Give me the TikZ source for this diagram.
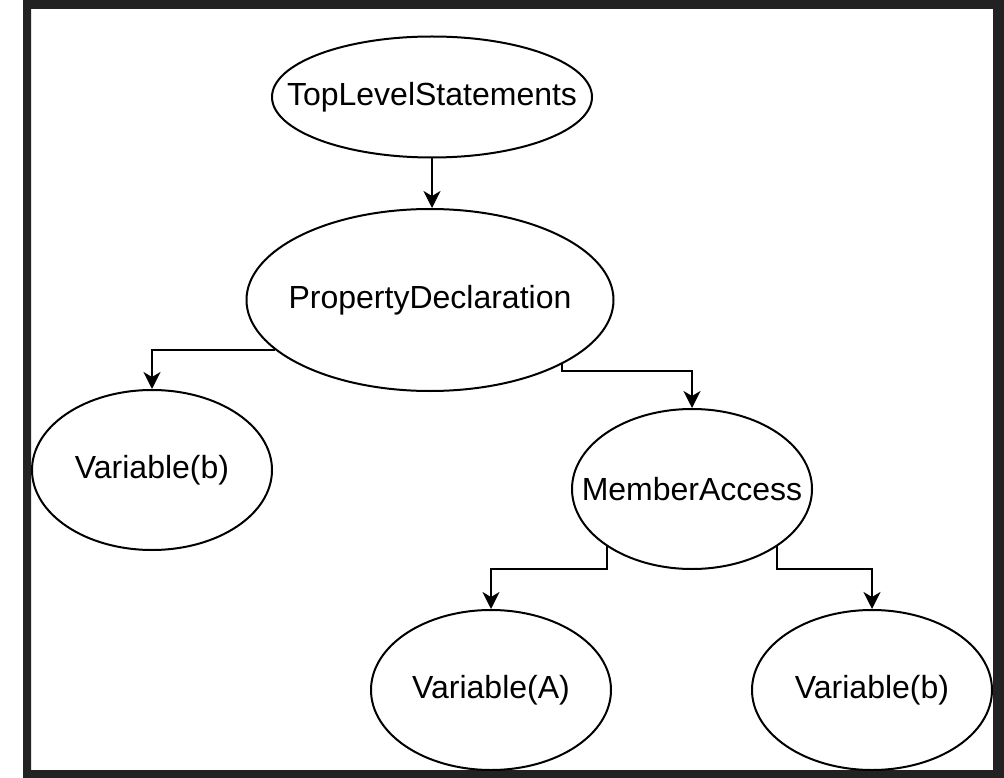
\documentclass[tikz,border=0pt]{standalone}
\usepackage{fontspec}
\setmainfont{Liberation Sans}
\usetikzlibrary{shapes.geometric,arrows.meta}
\definecolor{framegray}{HTML}{222222}
% a label whose width does not enlarge its ellipse
\newcommand{\lbl}[1]{\makebox[0pt]{#1}}
\tikzset{
  treenode/.style={ellipse, draw=black, line width=2pt, inner sep=0pt,
    font=\fontsize{32}{38}\selectfont, text=black},
  leaf/.style={treenode, minimum width=240pt, minimum height=160pt},
  arr/.style={draw=black, line width=2pt,
    -{Stealth[length=17pt,width=17pt,inset=5pt]}}
}
\begin{document}
\begin{tikzpicture}[x=1pt,y=-1pt]
  \useasboundingbox (0,0) rectangle (1004,778);
  % dark frame around the drawing area
  \fill[framegray, even odd rule] (23,0) rectangle (1004,778) (31,9) rectangle (993,770);

  % tree nodes
  \node[treenode, minimum width=320pt, minimum height=121pt] (tls) at (432,97) {\lbl{TopLevelStatements}};
  \node[treenode, minimum width=367pt, minimum height=182pt] (pd) at (430,300) {\lbl{PropertyDeclaration}};
  \node[leaf] (vb1) at (152,470) {\lbl{Variable(b)}};
  \node[leaf] (ma) at (692,489) {\lbl{MemberAccess}};
  \node[leaf] (va) at (491,690) {\lbl{Variable(A)}};
  \node[leaf] (vb2) at (872,690) {\lbl{Variable(b)}};

  % orthogonal connectors
  \draw[arr] (tls.south) -- (tls.south |- pd.north);
  \draw[arr] (pd.198) -| (vb1.north);
  \draw[arr] (pd.334) -- ++(0,7) -| (ma.north);
  \draw[arr] (ma.214) -- ++(0,23) -| (va.north);
  \draw[arr] (ma.326) -- ++(0,23) -| (vb2.north);
\end{tikzpicture}
\end{document}
